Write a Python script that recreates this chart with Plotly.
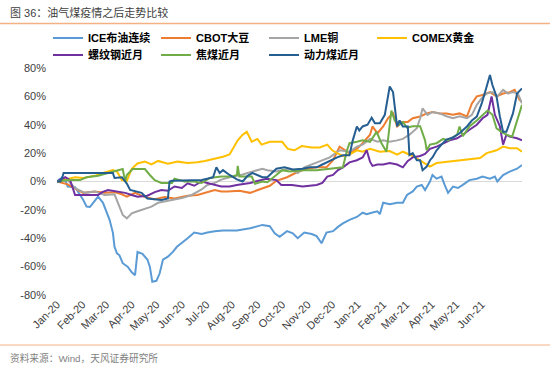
import plotly.graph_objects as go

# ---------------- data (percent change since start of 2020) ----------------
brent_dates = ["2020-01-01","2020-01-05","2020-01-11","2020-01-14","2020-01-23","2020-01-29",
    "2020-02-02","2020-02-06","2020-02-10","2020-02-14","2020-02-20","2020-02-26",
    "2020-03-02","2020-03-05","2020-03-09","2020-03-11","2020-03-14","2020-03-17","2020-03-21","2020-03-27",
    "2020-04-01","2020-04-05","2020-04-08","2020-04-14","2020-04-20","2020-04-23","2020-04-26",
    "2020-05-01","2020-05-05","2020-05-09","2020-05-15","2020-05-21","2020-05-26",
    "2020-06-01","2020-06-08","2020-06-16","2020-06-25","2020-07-02","2020-07-11","2020-07-21",
    "2020-08-07","2020-08-23","2020-09-07","2020-09-16","2020-09-22","2020-09-28",
    "2020-10-07","2020-10-14","2020-10-20","2020-10-28","2020-11-06","2020-11-12","2020-11-18","2020-11-24",
    "2020-12-02","2020-12-08","2020-12-14","2020-12-22","2020-12-31",
    "2021-01-07","2021-01-12","2021-01-18","2021-01-25","2021-01-28",
    "2021-02-01","2021-02-09","2021-02-18","2021-02-25",
    "2021-03-02","2021-03-09","2021-03-14","2021-03-20","2021-03-24","2021-03-30",
    "2021-04-02","2021-04-07","2021-04-13","2021-04-17","2021-04-21","2021-04-27",
    "2021-05-03","2021-05-09","2021-05-17","2021-05-26",
    "2021-06-02","2021-06-11","2021-06-17","2021-06-20","2021-06-27",
    "2021-07-05","2021-07-14","2021-07-20"]
brent_vals = [0,2,1,-3.6,-4,-9,
    -13,-17.7,-18,-15,-10.7,-15,
    -22,-27,-36,-46,-50.6,-52,-57.6,-60,
    -64,-66,-49.6,-51,-55,-60,-70.7,
    -70,-64.7,-55,-53,-49.6,-46,
    -43.5,-40,-36,-37,-36,-35,-34.5,
    -34.5,-33,-30.6,-31.5,-36.5,-39,
    -35,-36.5,-40,-36,-37,-38.5,-43.5,-36,
    -35,-32,-29.5,-27,-25,
    -22,-23,-22,-21,-23,
    -15,-16,-15,-15,
    -9.5,-7,-3.6,-2.5,-6,0,
    4.6,2,3.5,-2.5,-8,-3.6,
    -4.6,-2.4,1,2,
    3.5,2,3.5,0,4.5,
    7,9,11.6]

soy_dates = ["2020-01-01","2020-01-14","2020-01-23","2020-02-02","2020-02-16","2020-02-28",
    "2020-03-11","2020-03-20","2020-03-26","2020-04-05","2020-04-17","2020-04-29",
    "2020-05-11","2020-05-23","2020-06-08","2020-06-20","2020-07-11","2020-07-19","2020-07-27",
    "2020-08-10","2020-08-23","2020-09-04","2020-09-16","2020-09-24","2020-10-07","2020-10-19","2020-10-31",
    "2020-11-12","2020-11-24","2020-12-02","2020-12-10","2020-12-22","2020-12-31",
    "2021-01-07","2021-01-16","2021-01-19","2021-01-25",
    "2021-02-01","2021-02-07","2021-02-13","2021-02-18","2021-02-24",
    "2021-03-03","2021-03-09","2021-03-18","2021-03-26",
    "2021-04-02","2021-04-11","2021-04-19","2021-04-27",
    "2021-05-05","2021-05-14","2021-05-20","2021-05-26",
    "2021-06-02","2021-06-11","2021-06-19","2021-06-27",
    "2021-07-05","2021-07-11","2021-07-17","2021-07-20"]
soy_vals = [0,-2,-5,-8,-7,-8,
    -7.5,-9,-10.7,-8,-11,-12.5,
    -11,-12,-10,-9.5,-6,-7,-7,
    -6.5,-8,-5.5,-3,0.5,3,6.5,9,
    10,10,15,24.6,20,23,
    27,33,38.8,34,
    38.8,44.6,48,38.8,42,
    42,44.6,45.8,48,
    49,48,48,47,
    48,45.8,55,60,
    61,63,60,62,
    63,64.6,57.6,56]

copper_dates = ["2020-01-01","2020-01-14","2020-01-23","2020-02-04","2020-02-16","2020-02-28",
    "2020-03-11","2020-03-17","2020-03-21","2020-03-26","2020-04-01","2020-04-08","2020-04-17","2020-04-25",
    "2020-05-03","2020-05-11","2020-05-23","2020-06-01","2020-06-13","2020-06-25",
    "2020-07-02","2020-07-11","2020-07-19","2020-07-29","2020-08-14","2020-08-26",
    "2020-09-07","2020-09-13","2020-09-24","2020-10-10","2020-10-20","2020-10-28",
    "2020-11-06","2020-11-16","2020-11-28","2020-12-10","2020-12-22","2020-12-31",
    "2021-01-07","2021-01-16","2021-01-25","2021-02-01","2021-02-09","2021-02-18","2021-02-25",
    "2021-03-05","2021-03-14","2021-03-18","2021-03-21","2021-03-27",
    "2021-04-02","2021-04-11","2021-04-19","2021-04-27",
    "2021-05-05","2021-05-14","2021-05-20","2021-05-26",
    "2021-06-01","2021-06-07","2021-06-14","2021-06-20","2021-06-27",
    "2021-07-03","2021-07-09","2021-07-15","2021-07-20"]
copper_vals = [0,1,-4.7,-8,-7,-9.5,
    -9,-17.7,-23.6,-26,-22.5,-21,-19,-17.7,
    -15,-14,-13,-11.7,-9.5,-5.6,
    -2.4,-1,1.3,3,5,7,
    9,8,7,9,6,10,
    12,14.6,17,22,21,24.6,
    26,30,28,29,28,29,30,
    33,37.5,44.6,51.6,47,
    49,48,46,44.6,
    46,44.6,47,54,
    58.8,62,63,60,64.6,
    62,63,62,55]

gold_dates = ["2020-01-01","2020-01-14","2020-01-23","2020-02-02","2020-02-16","2020-02-26",
    "2020-03-09","2020-03-14","2020-03-20","2020-03-26","2020-04-01","2020-04-08","2020-04-17","2020-04-25",
    "2020-05-03","2020-05-15","2020-05-27","2020-06-08","2020-06-20","2020-06-29",
    "2020-07-11","2020-07-21","2020-07-29","2020-08-04","2020-08-08","2020-08-14","2020-08-19","2020-08-25",
    "2020-09-01","2020-09-06","2020-09-16","2020-10-01","2020-10-08","2020-10-16","2020-10-25",
    "2020-11-06","2020-11-16","2020-11-25","2020-12-01","2020-12-07","2020-12-14","2020-12-22","2020-12-31",
    "2021-01-07","2021-01-16","2021-01-28","2021-02-09","2021-02-18","2021-02-25",
    "2021-03-09","2021-03-21","2021-03-30","2021-04-07","2021-04-23",
    "2021-05-05","2021-05-17","2021-05-30","2021-06-07","2021-06-19","2021-06-27",
    "2021-07-05","2021-07-14","2021-07-20"]
gold_vals = [0,2,3,2.5,4,6,
    8,7,1,0.5,9,12.7,14,12,
    14.5,12.5,14,13,13.5,14.5,
    16,17.5,19,24.6,29,33,35,28,
    30,26,28,28,23,22,25,
    24,24,26,22,20,18,19,22,
    21,23,21,21.5,19,21,
    18,14,10.5,13,14,
    15,16,16.5,20,22,24.6,
    23.5,23.5,21]

rebar_dates = ["2020-01-01","2020-01-11","2020-01-17","2020-01-23","2020-02-20","2020-02-25",
    "2020-03-03","2020-03-15","2020-03-24","2020-04-01","2020-04-08","2020-04-20","2020-04-29",
    "2020-05-07","2020-05-15","2020-05-23","2020-06-01","2020-06-08","2020-06-16","2020-06-25",
    "2020-07-07","2020-07-19","2020-07-29","2020-08-07","2020-08-23",
    "2020-09-12","2020-09-24","2020-09-30","2020-10-13","2020-10-26",
    "2020-11-12","2020-11-19","2020-11-25","2020-12-02","2020-12-08","2020-12-14","2020-12-22","2020-12-31",
    "2021-01-07","2021-01-12","2021-01-16","2021-01-19","2021-01-25",
    "2021-02-01","2021-02-09","2021-02-18","2021-02-25",
    "2021-03-03","2021-03-09","2021-03-18","2021-03-24","2021-03-30",
    "2021-04-07","2021-04-15","2021-04-23",
    "2021-05-02","2021-05-09","2021-05-17","2021-05-26",
    "2021-06-02","2021-06-08","2021-06-13","2021-06-17","2021-06-23","2021-06-27",
    "2021-07-01","2021-07-05","2021-07-14","2021-07-20"]
rebar_vals = [0,3,1,-9.5,-9.5,-7.5,
    -6,-7,-8,-9.5,-10.7,-10,-7.5,
    -6,-6.5,-3.5,-4.6,-1.3,-3,0,
    -2,-3.5,-3.5,-2.4,-1,
    2,1,-2.4,-2.4,-3.5,
    -2.4,-1,3.5,4.6,8,10,13.5,15,
    17,22,14,11,12,
    12,13,12,10,
    14.5,17,18,19.5,23,
    24.6,27,29,
    30.5,33,36.5,40,
    44.6,47,60,47,39,26,
    33,31.6,30.5,29]

coking_dates = ["2020-01-01","2020-01-14","2020-01-29","2020-02-06","2020-02-20","2020-02-26",
    "2020-03-03","2020-03-11","2020-03-21","2020-03-24","2020-03-26",
    "2020-04-02","2020-04-17","2020-04-23","2020-04-29","2020-05-07","2020-05-20","2020-05-23",
    "2020-06-04","2020-06-16","2020-06-25","2020-07-05","2020-07-19",
    "2020-08-02","2020-08-07","2020-08-08","2020-08-10","2020-08-25","2020-08-29",
    "2020-09-07","2020-09-13","2020-09-24","2020-10-01","2020-10-10","2020-10-26",
    "2020-11-12","2020-11-28","2020-12-07","2020-12-14","2020-12-19","2020-12-22","2020-12-31",
    "2021-01-07","2021-01-16","2021-01-24","2021-01-30",
    "2021-02-05","2021-02-07","2021-02-11","2021-02-15","2021-02-21","2021-02-25",
    "2021-03-02","2021-03-09","2021-03-18","2021-03-24","2021-03-26","2021-03-30",
    "2021-04-07","2021-04-15","2021-04-21",
    "2021-05-02","2021-05-05","2021-05-09","2021-05-17","2021-05-26",
    "2021-06-02","2021-06-08","2021-06-14","2021-06-19","2021-06-25",
    "2021-07-01","2021-07-08","2021-07-14","2021-07-20"]
coking_vals = [0,1,1,3,4,5,
    6,7.6,8.8,0,4.6,
    8.8,8.8,4.6,1,-1,-1,2,
    0,0,-1,2.5,3.5,
    3.5,4.6,11,3.5,3.5,-1.6,
    0,-0.5,4.6,8,7,8,
    8,9,10,10,22,27,28,
    29,28,35,27,
    21,30,50,43,40,42,
    38,39,39,29,22,26,
    27,30,29,
    33,38.8,32,38.8,43,
    47,50,47,37.5,35,
    33,31.6,43,54]

thermal_dates = ["2020-01-01","2020-01-05","2020-01-08","2020-01-09",
    "2020-03-09","2020-03-11","2020-03-20","2020-03-26","2020-03-30",
    "2020-04-05","2020-04-13","2020-04-20","2020-05-07","2020-05-15","2020-05-17","2020-05-20",
    "2020-06-08","2020-06-25","2020-07-02","2020-07-09","2020-07-13","2020-07-17","2020-07-21","2020-07-29",
    "2020-08-07","2020-08-14","2020-08-20","2020-08-26","2020-09-07","2020-09-13","2020-09-24",
    "2020-10-04","2020-10-14","2020-10-26","2020-11-04","2020-11-12","2020-11-19","2020-11-28",
    "2020-12-07","2020-12-14","2020-12-22","2020-12-26","2020-12-31",
    "2021-01-03","2021-01-07","2021-01-13","2021-01-18","2021-01-22","2021-01-28",
    "2021-02-03","2021-02-09","2021-02-13","2021-02-18","2021-02-21","2021-02-25",
    "2021-03-03","2021-03-05","2021-03-09","2021-03-14","2021-03-18","2021-03-21","2021-03-26","2021-03-30",
    "2021-04-02","2021-04-07","2021-04-13","2021-04-19","2021-04-27",
    "2021-05-05","2021-05-14","2021-05-20","2021-05-26",
    "2021-06-01","2021-06-07","2021-06-11","2021-06-14","2021-06-19","2021-06-23","2021-06-27",
    "2021-07-01","2021-07-05","2021-07-09","2021-07-14","2021-07-20"]
thermal_vals = [0,0,4,6,
    6,2.5,3,-1.5,-6,
    -7,-8,-12,-13,-12,0,0.5,
    1,1,2,3,10,6,8,4.6,
    1.5,0,4,6,3,3,9,
    10,8.5,9,10,10,12,14.6,
    17,18.5,18.5,29,38.8,
    36,38.8,40,45,41,41,
    47,67,63,38.8,43,38.8,
    38.8,18.6,20,15,15,8,10.5,15,
    17,22,26,29.5,31,
    34,38.8,43,45.8,
    55,67,75,68,60,46,35,
    35,41,48,62,65.6]

series_names = ["ICE布油连续", "CBOT大豆", "LME铜", "COMEX黄金", "螺纹钢近月", "焦煤近月", "动力煤近月"]
series_colors = ["#5B9BD5", "#ED7D31", "#A5A5A5", "#FFC000", "#7030A0", "#70AD47", "#255E91"]

tick_dates = ["2020-01-01","2020-02-01","2020-03-01","2020-04-01","2020-05-01","2020-06-01",
              "2020-07-01","2020-08-01","2020-09-01","2020-10-01","2020-11-01","2020-12-01",
              "2021-01-01","2021-02-01","2021-03-01","2021-04-01","2021-05-01","2021-06-01"]
tick_labels = ["Jan-20","Feb-20","Mar-20","Apr-20","May-20","Jun-20","Jul-20","Aug-20","Sep-20",
               "Oct-20","Nov-20","Dec-20","Jan-21","Feb-21","Mar-21","Apr-21","May-21","Jun-21"]
y_ticks = [-80, -60, -40, -20, 0, 20, 40, 60, 80]

title_text = "图 36：油气煤疫情之后走势比较"
source_text = "资料来源：Wind，天风证券研究所"

# ---------------- figure ----------------
FONT = "Liberation Sans, Arial, Noto Sans CJK SC, sans-serif"
all_dates = [brent_dates, soy_dates, copper_dates, gold_dates, rebar_dates, coking_dates, thermal_dates]
all_vals = [brent_vals, soy_vals, copper_vals, gold_vals, rebar_vals, coking_vals, thermal_vals]

fig = go.Figure()
for i, (name, d, v, c) in enumerate(zip(series_names, all_dates, all_vals, series_colors)):
    fig.add_trace(go.Scatter(x=d, y=v, name=name, mode="lines",
                             line=dict(color=c, width=2), hoverinfo="skip",
                             legend="legend" if i < 4 else "legend2"))

W, H = 550, 370
L, R, T, B = 57, 28, 68, 75
pw, ph = W - L - R, H - T - B

def px_x(X):
    return (X - L) / pw

def px_y(Y):
    return (H - B - Y) / ph

legend_common = dict(orientation="h", xanchor="left", yanchor="middle",
                     entrywidth=63, entrywidthmode="pixels",
                     font=dict(family=FONT, size=11, color="#000000", weight="bold"),
                     bgcolor="rgba(0,0,0,0)", borderwidth=0, traceorder="normal")

fig.update_layout(
    width=W, height=H,
    margin=dict(l=L, r=R, t=T, b=B, pad=0, autoexpand=False),
    paper_bgcolor="white", plot_bgcolor="white",
    font=dict(family=FONT, size=11, color="#404040"),
    showlegend=True,
    legend=dict(x=px_x(48), y=px_y(38), **legend_common),
    legend2=dict(x=px_x(48), y=px_y(55), **legend_common),
    xaxis=dict(type="date", range=["2020-01-01", "2021-07-20"],
               tickmode="array", tickvals=tick_dates, ticktext=tick_labels,
               tickangle=-45, showgrid=False, zeroline=False, showline=False,
               ticks="", automargin=False, tickfont=dict(size=11, color="#404040")),
    yaxis=dict(range=[-80, 80], tickmode="array", tickvals=y_ticks,
               ticktext=[f"{t}%" for t in y_ticks],
               showgrid=False, zeroline=True, zerolinecolor="#D9D9D9", zerolinewidth=1,
               showline=False, ticks="", ticklabelstandoff=10, automargin=False,
               tickfont=dict(size=11, color="#404040")),
    shapes=[
        dict(type="line", xref="paper", yref="paper", x0=px_x(0), x1=px_x(W),
             y0=px_y(23.5), y1=px_y(23.5), line=dict(color="#F4B183", width=1.5)),
        dict(type="line", xref="paper", yref="paper", x0=px_x(0), x1=px_x(W),
             y0=px_y(345), y1=px_y(345), line=dict(color="#F8CBAD", width=1.5)),
    ],
    annotations=[
        dict(text=title_text, xref="paper", yref="paper", x=px_x(8), y=px_y(12),
             xanchor="left", yanchor="middle", showarrow=False,
             font=dict(family=FONT, size=11, color="#404040")),
        dict(text=source_text, xref="paper", yref="paper", x=px_x(8), y=px_y(358),
             xanchor="left", yanchor="middle", showarrow=False,
             font=dict(family=FONT, size=9.7, color="#7F7F7F")),
    ],
)

fig.write_html("out.html", config={"displayModeBar": False},
               post_script="document.body.style.margin='0';document.body.style.padding='0';")
